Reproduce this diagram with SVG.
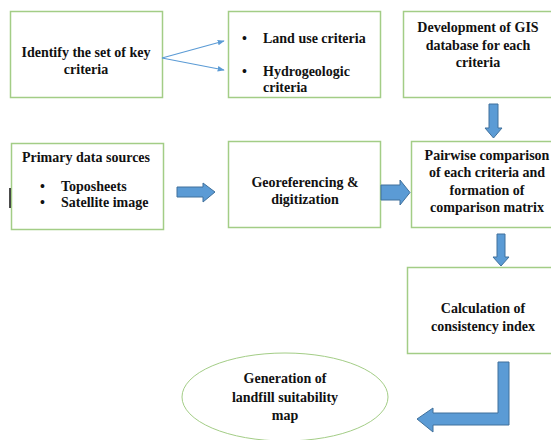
<svg xmlns="http://www.w3.org/2000/svg" width="551" height="440" viewBox="0 0 551 440">
<defs>
<style>
.box{fill:#fff;stroke:#A3CD86;stroke-width:1.5}
text{font-family:'Liberation Serif','Times New Roman',serif;font-weight:700;font-size:14px;fill:#111}
.c{text-anchor:middle}
.blk{fill:#5B9BD5;stroke:#41719C;stroke-width:1}
.thin{fill:none;stroke:#5B9BD5;stroke-width:1.2}
</style>
<marker id="ah" viewBox="0 0 10 10" refX="9" refY="5" markerWidth="7" markerHeight="7" orient="auto" markerUnits="userSpaceOnUse">
<path d="M0,1 L10,5 L0,9 z" fill="#5B9BD5"/>
</marker>
</defs>
<rect width="551" height="440" fill="#fff"/>

<g id="identify">
<rect class="box" x="10.5" y="11.5" width="152" height="86"/>
<text class="c" x="86" y="57">Identify the set of key</text>
<text class="c" x="86" y="74">criteria</text>
</g>

<g id="criteria">
<rect class="box" x="228.5" y="11.5" width="152" height="86"/>
<text x="242" y="43">•</text>
<text x="263" y="43">Land use criteria</text>
<text x="242" y="76">•</text>
<text x="263" y="76">Hydrogeologic</text>
<text x="263" y="92">criteria</text>
</g>

<g id="gis">
<rect class="box" x="403.5" y="11.5" width="160" height="86"/>
<text class="c" x="478" y="32">Development of GIS</text>
<text class="c" x="478" y="50">database for each</text>
<text class="c" x="478" y="67">criteria</text>
</g>

<g id="primary">
<rect class="box" x="11.5" y="143.5" width="152" height="86"/>
<text class="c" x="86" y="162">Primary data sources</text>
<text x="40" y="191">•</text>
<text x="61" y="191">Toposheets</text>
<text x="40" y="207">•</text>
<text x="61" y="207">Satellite image</text>
</g>

<g id="georef">
<rect class="box" x="228.5" y="141.5" width="152" height="86"/>
<text class="c" x="305" y="187">Georeferencing &amp;</text>
<text class="c" x="305" y="204">digitization</text>
</g>

<g id="pairwise">
<rect class="box" x="411.5" y="141.5" width="152" height="86"/>
<text class="c" x="487" y="160">Pairwise comparison</text>
<text class="c" x="487" y="177">of each criteria and</text>
<text class="c" x="487" y="195">formation of</text>
<text class="c" x="487" y="212">comparison matrix</text>
</g>

<g id="consistency">
<rect class="box" x="407.5" y="267.5" width="152" height="86"/>
<text class="c" x="483" y="313">Calculation of</text>
<text class="c" x="483" y="331">consistency index</text>
</g>

<g id="suitability">
<ellipse cx="285" cy="397" rx="103" ry="44" fill="#fff" stroke="#A3CD86" stroke-width="1"/>
<text class="c" x="285" y="383">Generation of</text>
<text class="c" x="285" y="402">landfill suitability</text>
<text class="c" x="285" y="420">map</text>
</g>

<g id="connectors">
<line class="thin" x1="162" y1="58" x2="224" y2="41" marker-end="url(#ah)"/>
<line class="thin" x1="162" y1="58" x2="224" y2="70" marker-end="url(#ah)"/>
<path class="blk" d="M489,104 H498 V128 H502 L493.5,138 L485,128 H489 Z"/>
<path class="blk" d="M497,234 H505 V257 H509 L501,266 L493,257 H497 Z"/>
<path class="blk" d="M177,187 H203 V183 L215,192 L203,202 V197 H177 Z"/>
<path class="blk" d="M381,185 H400 V180 L410,192.5 L400,205 V200 H381 Z"/>
<path class="blk" d="M498,362 H509 V425 H433 V432 L417,419 L433,408 V413 H498 Z"/>
<line x1="10" y1="188" x2="10" y2="208" stroke="#111" stroke-width="1.5"/>
</g>
</svg>
